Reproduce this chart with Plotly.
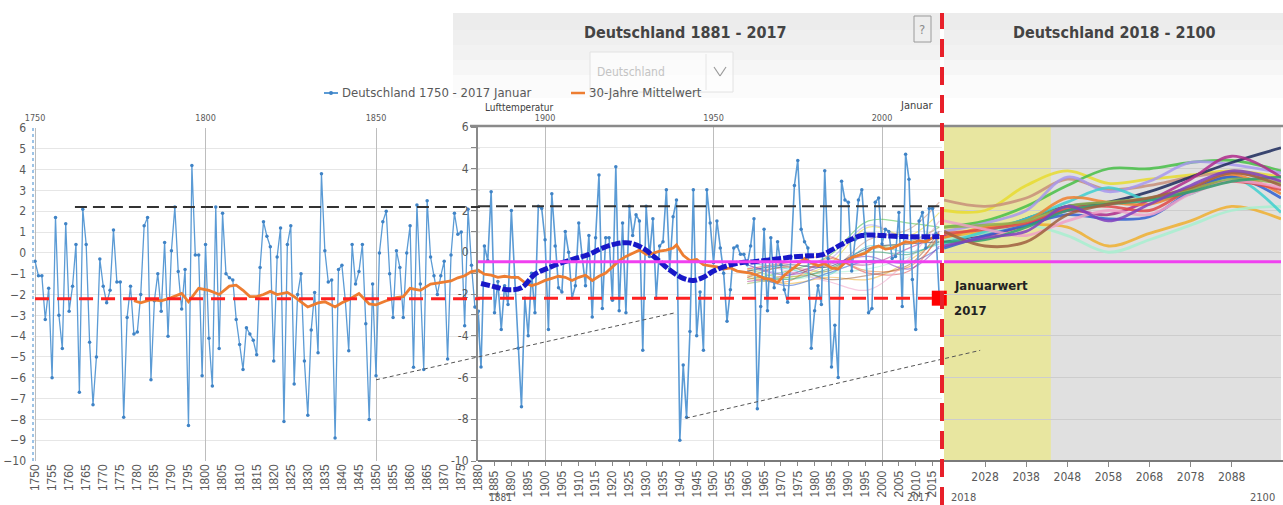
import plotly.graph_objects as go

W, H = 1283, 505

# ---------------- data ----------------
jan_years = list(range(1750, 2018))
jan_temp = [
    -0.4, -1.1, -1.1, -3.2, -1.7, -6.0, 1.7, -3.0, -4.6, 1.4,
    -2.8, -1.6, 0.4, -6.7, 2.1, 0.4, -4.3, -7.3, -5.0, -0.3,
    -1.6, -2.4, -1.8, 1.1, -1.4, -1.4, -7.9, -3.1, -1.6, -3.9,
    -3.8, -2.0, 1.3, 1.7, -6.1, -2.3, -1.0, -2.8, 0.5, -4.0,
    0.1, 2.2, -0.9, -2.7, -0.8, -8.3, 4.2, -0.1, -0.1, -5.9,
    0.4, -4.1, -6.4, 2.2, -4.6, 1.9, -1.0, -1.2, -1.3, -3.2,
    -4.4, -5.6, -3.6, -3.9, -4.2, -4.9, -0.7, 1.5, 0.8, 0.3,
    -5.2, -0.2, 1.2, -8.1, 0.4, 1.3, -6.3, -2.0, -1.0, -5.2,
    -7.8, -3.7, -1.9, -4.8, 3.8, 0.1, -1.4, -1.3, -8.9, -0.8,
    -0.6, -2.3, -4.7, 0.4, -1.5, -0.9, 0.4, -3.4, -8.0, -1.5,
    -5.9, 0.0, 1.5, 2.0, -1.0, -3.1, 0.1, -0.7, -3.1, 0.0,
    1.3, -5.5, 2.3, -1.5, -5.6, 2.5, -0.2, -1.1, -2.0, -1.1,
    -0.4, -5.1, -0.1, 1.9, 0.9, 1.0, -3.5, 2.1, -0.6, -2.6,
    -2.8, -5.5, 0.3, -0.4, 2.9, -2.9, -1.4, -3.7, -1.6, -2.5,
    2.0, -1.2, -4.6, -7.4, -2.2, -4.0, -1.0, -2.9, 2.2, 2.1,
    0.6, -3.7, 2.8, 0.3, -1.7, -1.9, 1.0, 0.0, -2.2, -1.6,
    1.4, -0.2, -1.6, 0.8, -3.1, 0.7, 3.7, -2.7, 0.7, 0.7,
    -2.3, 4.1, -2.8, 1.4, -2.9, 2.2, 0.8, 1.8, 1.5, -4.7,
    2.2, -0.2, 1.6, -2.2, 0.3, 0.5, 3.0, -0.8, 1.7, 2.5,
    -9.0, -5.4, -7.9, -3.8, 3.0, -4.0, -1.9, -4.7, 3.0, 1.4,
    -0.5, 1.5, 0.2, -1.0, -3.3, -1.8, 0.2, 0.3, -0.1, -0.1,
    -0.6, 0.3, 1.6, -7.5, -2.6, 1.1, -2.8, 0.7, -1.7, 0.5,
    -0.6, -1.8, -2.4, -0.2, 3.2, 4.4, 1.1, 0.5, 0.2, -4.6,
    -2.8, -1.6, -2.5, 3.9, -0.3, -5.5, -3.5, -6.0, 3.4, 2.5,
    2.4, -0.9, 0.6, 2.5, 3.0, 0.9, -2.9, -2.7, 2.4, 2.6,
    0.4, 1.1, 1.0, -0.3, -0.2, 1.9, -2.6, 4.7, 3.5, -1.3,
    -3.7, 1.5, 1.9, 0.2, 2.1, 2.1, 0.9, -2.2,
]
assert len(jan_temp) == len(jan_years)

# 30-Jahre Mittelwert
mean_years = [1779, 1781, 1784, 1787, 1790, 1793, 1795, 1798, 1801, 1804, 1807, 1809,
              1811, 1813, 1815, 1817, 1819, 1821, 1824, 1826, 1828, 1830, 1833, 1835,
              1838, 1840, 1842, 1845, 1848, 1850, 1853, 1856, 1858, 1860, 1863, 1866,
              1868, 1870, 1872, 1874, 1876, 1878, 1880, 1882, 1884, 1886, 1888, 1890,
              1892, 1894, 1896, 1898, 1900, 1902, 1904, 1906, 1908, 1910, 1912, 1914,
              1916, 1918, 1920, 1922, 1924, 1926, 1928, 1930, 1932, 1934, 1936, 1938,
              1939, 1941, 1943, 1945, 1947, 1949, 1951, 1953, 1955, 1957, 1959, 1961,
              1963, 1965, 1967, 1969, 1971, 1973, 1975, 1977, 1979, 1981, 1983, 1985,
              1987, 1989, 1991, 1993, 1995, 1997, 1999, 2001, 2003, 2005, 2007, 2009,
              2011, 2013, 2015, 2017]
mean_vals = [-2.3, -2.4, -2.25, -2.3, -2.15, -1.95, -2.35, -1.7, -1.8, -2.0, -1.6, -1.55,
             -1.8, -2.1, -2.1, -2.0, -1.85, -2.0, -1.9, -2.1, -2.35, -2.6, -2.4, -2.35,
             -2.6, -2.4, -2.25, -1.95, -2.45, -2.5, -2.3, -2.15, -2.1, -1.7, -1.8, -1.5,
             -1.45, -1.4, -1.35, -1.2, -1.1, -0.9, -0.85, -1.05, -1.1, -1.2, -1.15, -1.2,
             -1.2, -1.45, -1.6, -1.5, -1.35, -1.25, -1.15, -1.2, -1.35, -1.2, -1.1, -1.35,
             -1.15, -1.0, -0.7, -0.4, -0.2, -0.05, 0.1, -0.1, -0.05, 0.05, 0.1, 0.2,
             0.35, -0.15, -0.4, -0.35, -0.6, -0.65, -0.7, -0.8, -0.75, -0.9, -0.95, -1.0,
             -1.1, -1.25, -1.3, -1.45, -1.1, -0.85, -0.6, -0.3, -0.5, -0.65, -0.55, -0.75,
             -0.8, -0.5, -0.25, -0.15, -0.05, 0.2, 0.3, 0.15, 0.2, 0.35, 0.5, 0.45,
             0.55, 0.5, 0.7, 0.85]

# smoothed curve (dark blue, 1881 - 2017)
smooth_years = [1881, 1885, 1889, 1893, 1897, 1901, 1905, 1909, 1913, 1917, 1921, 1925,
                1929, 1933, 1937, 1941, 1944, 1947, 1950, 1954, 1958, 1962, 1966, 1970,
                1974, 1978, 1982, 1986, 1990, 1994, 1998, 2002, 2006, 2010, 2014, 2017]
smooth_vals = [-1.5, -1.65, -1.8, -1.7, -1.05, -0.75, -0.5, -0.3, -0.1, 0.2, 0.4, 0.45,
               0.2, -0.3, -0.85, -1.25, -1.35, -1.2, -0.9, -0.65, -0.5, -0.45, -0.38, -0.3,
               -0.22, -0.17, -0.13, 0.2, 0.55, 0.8, 0.82, 0.78, 0.75, 0.74, 0.74, 0.75]

# climate model runs
model_years_hist = [1960, 1972, 1984, 1996, 2008, 2017]
model_years_future = [2018, 2028, 2038, 2048, 2058, 2068, 2078, 2088, 2100]
model_colors = ['#e8dc30', '#c8907a', '#48c048', '#a898f0', '#1c2a5c', '#b02c8c',
                '#f0b030', '#a8f0d0', '#40d0d0', '#f08030', '#3060d0', '#e04848',
                '#90b050', '#f0a0c8', '#30a070', '#a06040', '#8040c0']
model_hist = [
    [-0.8, -1.2, -0.6, 1.2, 0.8, 1.9],
    [-1.0, -0.7, -0.9, 0.6, 1.1, 2.4],
    [-1.3, -0.9, -0.2, 1.5, 1.4, 1.2],
    [-0.6, -1.0, -0.4, 1.3, 0.6, 1.0],
    [-0.9, -0.6, -0.7, 0.2, 0.4, 0.5],
    [-1.4, -1.1, -0.5, -0.6, 0.2, 0.8],
    [-1.1, -1.5, -1.2, -1.3, -0.4, 0.7],
    [-0.7, -1.3, -1.0, -0.8, -0.2, 0.6],
    [-0.5, -0.8, -1.1, 0.3, 0.0, 0.4],
    [-1.2, -1.4, -0.3, -0.9, -0.7, 0.7],
    [-0.9, -1.6, -1.0, -0.4, -0.5, 0.2],
    [-0.8, -0.5, -0.2, -1.0, -0.9, 0.9],
    [-1.5, -1.2, -0.9, 0.1, 0.5, 1.2],
    [-0.4, -0.9, -1.4, -1.8, -0.3, 1.5],
    [-1.0, -1.3, -0.8, 0.0, -0.1, 0.5],
    [-1.2, -0.7, -1.3, -1.1, -0.6, 1.0],
    [-0.6, -1.1, -0.6, -0.2, -0.8, 0.3],
]
model_future = [
    [2.0, 2.0, 3.2, 3.9, 3.3, 3.5, 3.7, 3.9, 3.6],
    [2.5, 2.2, 2.6, 3.5, 3.0, 3.2, 3.6, 3.8, 3.4],
    [1.2, 1.5, 2.2, 3.2, 4.0, 4.0, 4.3, 4.4, 3.9],
    [1.0, 1.4, 2.0, 3.6, 2.9, 3.4, 4.3, 4.2, 3.8],
    [0.5, 0.9, 1.6, 2.2, 2.4, 2.9, 3.6, 4.3, 5.0],
    [0.8, 0.8, 1.3, 2.0, 1.8, 2.5, 3.5, 4.6, 3.6],
    [0.7, 1.0, 1.3, 1.2, 0.3, 0.9, 1.5, 2.2, 1.6],
    [0.6, 0.9, 1.3, 0.8, 0.0, 0.6, 1.3, 2.0, 2.2],
    [0.4, 1.0, 1.6, 2.4, 3.1, 2.5, 2.8, 3.6, 1.9],
    [0.7, 1.2, 1.5, 2.6, 2.4, 2.3, 3.0, 3.7, 2.8],
    [0.2, 0.8, 1.3, 1.8, 1.6, 1.7, 2.9, 3.6, 2.6],
    [0.9, 1.1, 1.4, 2.1, 2.2, 2.0, 3.0, 3.4, 3.0],
    [1.2, 1.3, 1.5, 2.2, 2.4, 2.6, 3.0, 3.5, 3.3],
    [1.5, 1.1, 0.8, 1.5, 2.0, 1.8, 2.8, 3.4, 3.1],
    [0.5, 0.6, 1.2, 2.0, 2.3, 2.5, 2.9, 3.4, 3.6],
    [1.0, 0.3, 0.5, 1.8, 2.3, 2.6, 3.1, 3.8, 3.2],
    [0.3, 0.7, 1.0, 2.2, 1.5, 2.3, 3.2, 3.9, 3.4],
]

upper_ref = 2.2        # black dashed line
jan_2017 = -2.2        # Januarwert 2017 / red dashed line
base_ref = -0.45       # magenta line
trend_lines = [((1850, -6.1), (1938.6, -2.9)), ((1941.8, -7.95), (2026.8, -4.7))]
yellow_band = (2018, 2044)

# ---------------- geometry ----------------
FONT = "Liberation Sans Narrow, DejaVu Sans Condensed, Liberation Sans, sans-serif"
GREY = '#595959'


def px(x):
    return x / W


def py(y):
    return 1 - y / H


panels = {
    'L': dict(xd=(33, 480), xr=[1749.4, 1880.5], yd=(128, 461), yr=[-10, 6]),
    'M': dict(xd=(478, 942), xr=[1880.1, 2017.8], yd=(127, 461), yr=[-10, 6]),
    'R': dict(xd=(944, 1281), xr=[2018, 2100], yd=(127, 461), yr=[-10, 6]),
}


def to_paper(p, xv, yv):
    g = panels[p]
    fx = (xv - g['xr'][0]) / (g['xr'][1] - g['xr'][0])
    fy = (yv - g['yr'][0]) / (g['yr'][1] - g['yr'][0])
    xpix = g['xd'][0] + fx * (g['xd'][1] - g['xd'][0])
    ypix = g['yd'][1] - fy * (g['yd'][1] - g['yd'][0])
    return px(xpix), py(ypix)


fig = go.Figure()

# model runs, historic part (middle)
for col, vals in zip(model_colors, model_hist):
    fig.add_trace(go.Scatter(x=model_years_hist, y=vals, mode='lines', xaxis='x2', yaxis='y2',
                             line=dict(color=col, width=1.2, shape='spline'), opacity=0.55,
                             hoverinfo='skip'))
# model runs, future (right)
for col, vals in zip(model_colors, model_future):
    fig.add_trace(go.Scatter(x=model_years_future, y=vals, mode='lines', xaxis='x3', yaxis='y3',
                             line=dict(color=col, width=2.8, shape='spline'), opacity=0.85,
                             hoverinfo='skip'))

# January series
for xa, ya, w in (('x', 'y', 1.3), ('x2', 'y2', 1.6)):
    fig.add_trace(go.Scatter(x=jan_years, y=jan_temp, mode='lines+markers', xaxis=xa, yaxis=ya,
                             line=dict(color='#5b9bd5', width=w),
                             marker=dict(size=3.5, color='#3f83c6'),
                             name='Deutschland 1750 - 2017 Januar'))

# 30 year mean
for xa, ya, w in (('x', 'y', 2.8), ('x2', 'y2', 2.8)):
    fig.add_trace(go.Scatter(x=mean_years, y=mean_vals, mode='lines', xaxis=xa, yaxis=ya,
                             line=dict(color='#ed7d31', width=w), name='30-Jahre Mittelwert'))

# smoothed dark blue
fig.add_trace(go.Scatter(x=smooth_years, y=smooth_vals, mode='lines', xaxis='x2', yaxis='y2',
                         line=dict(color='#1818c8', width=5, dash='9px,2px', shape='spline')))

# Januarwert 2017
fig.add_trace(go.Scatter(x=[2017], y=[jan_2017], mode='markers', xaxis='x2', yaxis='y2',
                         marker=dict(symbol='square', size=15, color='#ff0000'),
                         cliponaxis=False))

# empty traces so that the top year axes get drawn
fig.add_trace(go.Scatter(x=[1800], y=[None], xaxis='x4', yaxis='y', mode='lines', hoverinfo='skip'))
fig.add_trace(go.Scatter(x=[1950], y=[None], xaxis='x5', yaxis='y2', mode='lines', hoverinfo='skip'))

shapes = []
# header backgrounds
for x0, x1 in ((453, 940), (944, 1283)):
    for (y0, y1), c in zip(((13, 30), (30, 45), (45, 60), (60, 75), (75, 98)),
                           ('#ececec', '#efefef', '#f2f2f2', '#f6f6f6', '#fbfbfb')):
        shapes.append(dict(type='rect', xref='paper', yref='paper', x0=px(x0), x1=px(x1),
                           y0=py(y1), y1=py(y0), fillcolor=c, line_width=0, layer='below'))
# right panel background + yellow band
shapes.append(dict(type='rect', xref='paper', yref='paper', x0=px(944), x1=px(1281),
                   y0=py(461), y1=py(127), fillcolor='#e0e0e0', line_width=0, layer='below'))
yb0 = to_paper('R', yellow_band[0], 0)[0]
yb1 = to_paper('R', yellow_band[1], 0)[0]
shapes.append(dict(type='rect', xref='paper', yref='paper', x0=yb0, x1=yb1,
                   y0=py(461), y1=py(127), fillcolor='#e8e6a0', line_width=0, layer='below'))
# dropdown and ? box
shapes.append(dict(type='rect', xref='paper', yref='paper', x0=px(590), x1=px(733),
                   y0=py(92), y1=py(52), fillcolor='rgba(255,255,255,0.6)',
                   line=dict(color='#e2e2e2', width=1), layer='below'))
shapes.append(dict(type='line', xref='paper', yref='paper', x0=px(706), x1=px(706),
                   y0=py(90), y1=py(54), line=dict(color='#e6e6e6', width=1)))
shapes.append(dict(type='line', xref='paper', yref='paper', x0=px(714), x1=px(720),
                   y0=py(67), y1=py(76), line=dict(color='#9a9a9a', width=1.2)))
shapes.append(dict(type='line', xref='paper', yref='paper', x0=px(720), x1=px(726),
                   y0=py(76), y1=py(67), line=dict(color='#9a9a9a', width=1.2)))
shapes.append(dict(type='rect', xref='paper', yref='paper', x0=px(914), x1=px(931),
                   y0=py(42), y1=py(16), line=dict(color='#9a9a9a', width=1)))
# left dotted y axis line
shapes.append(dict(type='line', xref='paper', yref='paper', x0=px(33), x1=px(33),
                   y0=py(461), y1=py(128), line=dict(color='#9dc3e6', width=2, dash='dot')))
# frame lines middle/right
shapes.append(dict(type='line', xref='paper', yref='paper', x0=px(470), x1=px(1283),
                   y0=py(126), y1=py(126), line=dict(color='#8a8a8a', width=2.5)))
shapes.append(dict(type='line', xref='paper', yref='paper', x0=px(478), x1=px(1283),
                   y0=py(461), y1=py(461), line=dict(color='#7a7a7a', width=2)))
# reference lines
shapes.append(dict(type='line', xref='x', yref='y', x0=1761.7, x1=1880.5, y0=upper_ref, y1=upper_ref,
                   line=dict(color='#333333', width=2, dash='12px,6px')))
shapes.append(dict(type='line', xref='x2', yref='y2', x0=1880.1, x1=2017, y0=upper_ref, y1=upper_ref,
                   line=dict(color='#333333', width=2, dash='12px,6px')))
shapes.append(dict(type='line', xref='x', yref='y', x0=1750, x1=1880.5, y0=jan_2017, y1=jan_2017,
                   line=dict(color='#ff2020', width=3, dash='14px,8px')))
shapes.append(dict(type='line', xref='x2', yref='y2', x0=1880.1, x1=2017, y0=jan_2017, y1=jan_2017,
                   line=dict(color='#ff2020', width=3, dash='14px,8px')))
for xa, ya, r in (('x2', 'y2', panels['M']['xr']), ('x3', 'y3', panels['R']['xr'])):
    shapes.append(dict(type='line', xref=xa, yref=ya, x0=r[0], x1=r[1], y0=base_ref, y1=base_ref,
                       line=dict(color='#f040f0', width=3)))
# trend lines
for (p0, p1), (pa, pb) in zip(trend_lines, (('L', 'M'), ('M', 'R'))):
    x0, y0 = to_paper(pa, *p0)
    x1, y1 = to_paper(pb, *p1)
    shapes.append(dict(type='line', xref='paper', yref='paper', x0=x0, x1=x1, y0=y0, y1=y1,
                       line=dict(color='#555555', width=1, dash='4px,3px')))
# red vertical dashed line
shapes.append(dict(type='line', xref='paper', yref='paper', x0=px(942), x1=px(942),
                   y0=0, y1=py(13), line=dict(color='#e8202a', width=4, dash='18px,10px')))
# legend symbols
shapes.append(dict(type='line', xref='paper', yref='paper', x0=px(324), x1=px(338),
                   y0=py(93), y1=py(93), line=dict(color='#5b9bd5', width=2)))
shapes.append(dict(type='circle', xref='paper', yref='paper', x0=px(329), x1=px(333),
                   y0=py(95), y1=py(91), fillcolor='#3f83c6', line_width=0))
shapes.append(dict(type='line', xref='paper', yref='paper', x0=px(571), x1=px(585),
                   y0=py(93), y1=py(93), line=dict(color='#ed7d31', width=2.5)))


def txt(x, y, s, size=12, color=GREY, anchor='center', bold=False):
    return dict(xref='paper', yref='paper', x=px(x), y=py(y), text=f'<b>{s}</b>' if bold else s,
                showarrow=False, xanchor=anchor, yanchor='middle',
                font=dict(family=FONT, size=size, color=color))


annotations = [
    txt(685, 32, 'Deutschland 1881 - 2017', 16, '#444444', bold=True),
    txt(1114, 32, 'Deutschland 2018 - 2100', 16, '#444444', bold=True),
    txt(922, 29, '?', 13, '#8a8a8a'),
    txt(595, 72, 'Deutschland', 12, '#c4c4c4', 'left'),
    txt(340, 93, 'Deutschland 1750 - 2017 Januar', 13, GREY, 'left'),
    txt(587, 93, '30-Jahre Mittelwert', 13, GREY, 'left'),
    txt(483, 108, 'Lufttemperatur', 10, '#404040', 'left'),
    txt(936, 106, 'Januar', 11, '#404040', 'right'),
    txt(952, 285, 'Januarwert', 13, '#222222', 'left', bold=True),
    txt(952, 310, '2017', 13, '#222222', 'left', bold=True),
    txt(500, 497, '1881', 10, GREY),
    txt(918, 497, '2017', 10, GREY),
    txt(963, 497, '2018', 11, GREY),
    txt(1262, 497, '2100', 11, GREY),
]


def dom_x(p):
    return [px(panels[p]['xd'][0]), px(panels[p]['xd'][1])]


def dom_y(p):
    return [py(panels[p]['yd'][1]), py(panels[p]['yd'][0])]


tickfont = dict(family=FONT, size=12, color=GREY)
botfont = dict(family='Liberation Sans, sans-serif', size=12, color=GREY)
mid_ticks = list(range(-10, 7))

fig.update_layout(
    template='none',
    width=W, height=H, margin=dict(l=0, r=0, t=0, b=0, pad=0, autoexpand=False), showlegend=False,
    paper_bgcolor='white', plot_bgcolor='rgba(0,0,0,0)',
    shapes=shapes, annotations=annotations,
    xaxis=dict(domain=dom_x('L'), range=panels['L']['xr'], anchor='y',
               tickvals=list(range(1750, 1881, 5)), tickangle=-90, tickfont=botfont,
               showgrid=False, zeroline=False, ticks='', automargin=False),
    yaxis=dict(domain=dom_y('L'), range=panels['L']['yr'], anchor='x',
               tickvals=mid_ticks, tickfont=tickfont, showgrid=True, gridcolor='#e6e6e6',
               zeroline=False, ticks='', automargin=False, ticklabelstandoff=6),
    xaxis2=dict(domain=dom_x('M'), range=panels['M']['xr'], anchor='y2',
                tickvals=list(range(1885, 2016, 5)), tickangle=-90, tickfont=botfont,
                showgrid=False, zeroline=False, ticks='outside', ticklen=4, tickcolor='#888',
                automargin=False),
    yaxis2=dict(domain=dom_y('M'), range=panels['M']['yr'], anchor='x2',
                tickvals=mid_ticks, ticktext=[str(v) if v % 2 == 0 else '' for v in mid_ticks],
                tickfont=tickfont, showgrid=True, gridcolor='#e8e8e8', zeroline=False,
                ticks='outside', ticklen=5, tickcolor='#888', showline=True,
                linecolor='#8a8a8a', linewidth=2, automargin=False),
    xaxis3=dict(domain=dom_x('R'), range=panels['R']['xr'], anchor='y3',
                tickvals=list(range(2028, 2089, 10)), tickfont=dict(family=FONT, size=12, color=GREY),
                showgrid=False, zeroline=False, ticks='outside', ticklen=5, tickcolor='#888',
                automargin=False),
    yaxis3=dict(domain=dom_y('R'), range=panels['R']['yr'], anchor='x3',
                tickvals=list(range(-10, 7, 2)), showticklabels=False, showgrid=True,
                gridcolor='#cdcdcd', zeroline=False, ticks='', automargin=False),
    xaxis4=dict(overlaying='x', side='top', anchor='y', range=panels['L']['xr'],
                tickvals=[1750, 1800, 1850], tickfont=dict(family=FONT, size=9, color=GREY),
                showgrid=True, gridcolor='#bdbdbd', zeroline=False, ticks='', automargin=False,
                ticklabelstandoff=4),
    xaxis5=dict(overlaying='x2', side='top', anchor='y2', range=panels['M']['xr'],
                tickvals=[1900, 1950, 2000], tickfont=dict(family=FONT, size=9, color=GREY),
                showgrid=True, gridcolor='#bdbdbd', zeroline=False, ticks='', automargin=False,
                ticklabelstandoff=3),
)

fig.write_html("out.html", config={'displayModeBar': False},
               post_script="document.body.style.margin='0';document.body.style.overflow='hidden';")
